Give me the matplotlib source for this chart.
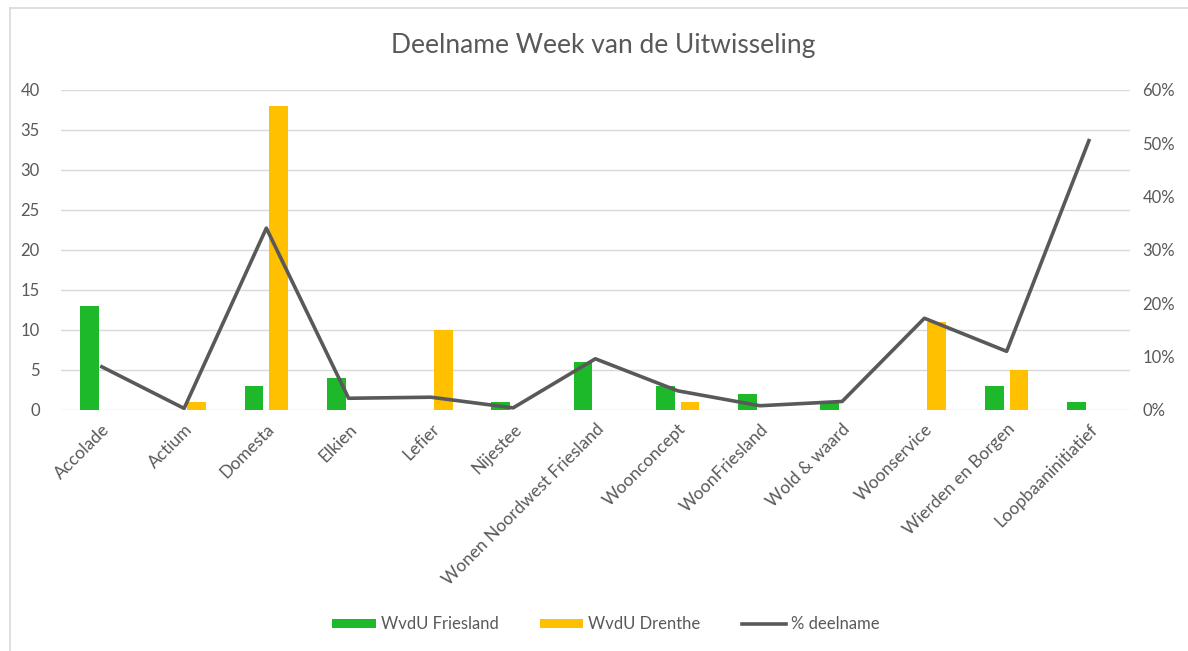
import numpy as np
import matplotlib
matplotlib.use('Agg')
import matplotlib.pyplot as plt
from matplotlib.ticker import PercentFormatter

# Data
categories = ['Accolade', 'Actium', 'Domesta', 'Elkien', 'Lefier', 'Nijestee',
              'Wonen Noordwest Friesland', 'Woonconcept', 'WoonFriesland',
              'Wold & waard', 'Woonservice', 'Wierden en Borgen', 'Loopbaaninitiatief']
friesland = [13, 0, 3, 4, 0, 1, 6, 3, 2, 1, 0, 3, 1]
drenthe = [0, 1, 38, 0, 10, 0, 0, 1, 0, 0, 11, 5, 0]
pct_deelname = [8.1, 0.3, 34.1, 2.2, 2.4, 0.4, 9.6, 3.6, 0.8, 1.6, 17.2, 11.0, 50.5]

green = '#1DB92A'
orange = '#FFC000'
line_col = '#595959'
text_col = '#595959'
grid_col = '#D9D9D9'

plt.rcParams['font.family'] = ['Lato', 'DejaVu Sans']

fig = plt.figure(figsize=(11.88, 6.51), dpi=100)
ax = fig.add_axes([0.0511, 0.3702, 0.9001, 0.4916])
ax2 = ax.twinx()

x = np.arange(len(categories))
w = 0.23
gap = 0.035
ax.bar(x - w / 2 - gap, friesland, w, color=green, label='WvdU Friesland', zorder=2)
ax.bar(x + w / 2 + gap, drenthe, w, color=orange, label='WvdU Drenthe', zorder=2)
ln, = ax2.plot(x, pct_deelname, color=line_col, lw=2.6, label='% deelname', zorder=3)

ax.set_xlim(-0.5, len(categories) - 0.5)
ax.set_ylim(0, 40)
ax.set_yticks(range(0, 41, 5))
ax2.set_ylim(0, 60)
ax2.set_yticks(range(0, 61, 10))
ax2.yaxis.set_major_formatter(PercentFormatter(decimals=0))

ax.yaxis.grid(True, color=grid_col, lw=1)
ax.set_axisbelow(True)
for a in (ax, ax2):
    for s in a.spines.values():
        s.set_visible(False)
    a.tick_params(length=0, colors=text_col, labelsize=12)
ax.tick_params(axis='y', pad=15)
ax2.tick_params(axis='y', pad=9)

ax.set_xticks(x)
ax.set_xticklabels(categories, rotation=45, ha='right', rotation_mode='anchor')
ax.tick_params(axis='x', pad=8, labelsize=12.5)

fig.text(0.508, 0.93, 'Deelname Week van de Uitwisseling', ha='center', va='center',
         fontsize=19, color=text_col)

handles = ax.get_legend_handles_labels()[0] + [ln]
labels = ['WvdU Friesland', 'WvdU Drenthe', '% deelname']
leg = fig.legend(handles, labels, loc='center', bbox_to_anchor=(0.51, 0.041), ncol=3,
                 frameon=False, fontsize=12, handlelength=2.6, handleheight=0.5,
                 columnspacing=2.5, handletextpad=0.3)
for t in leg.get_texts():
    t.set_color(text_col)

# outer chart border (top and left edge)
fig.add_artist(plt.Line2D([10 / 1188, 1], [1 - 8 / 651, 1 - 8 / 651], color=grid_col, lw=1.2,
                          transform=fig.transFigure))
fig.add_artist(plt.Line2D([10 / 1188, 10 / 1188], [0, 1 - 8 / 651], color=grid_col, lw=1.2,
                          transform=fig.transFigure))

fig.savefig('out.png', dpi=100)
